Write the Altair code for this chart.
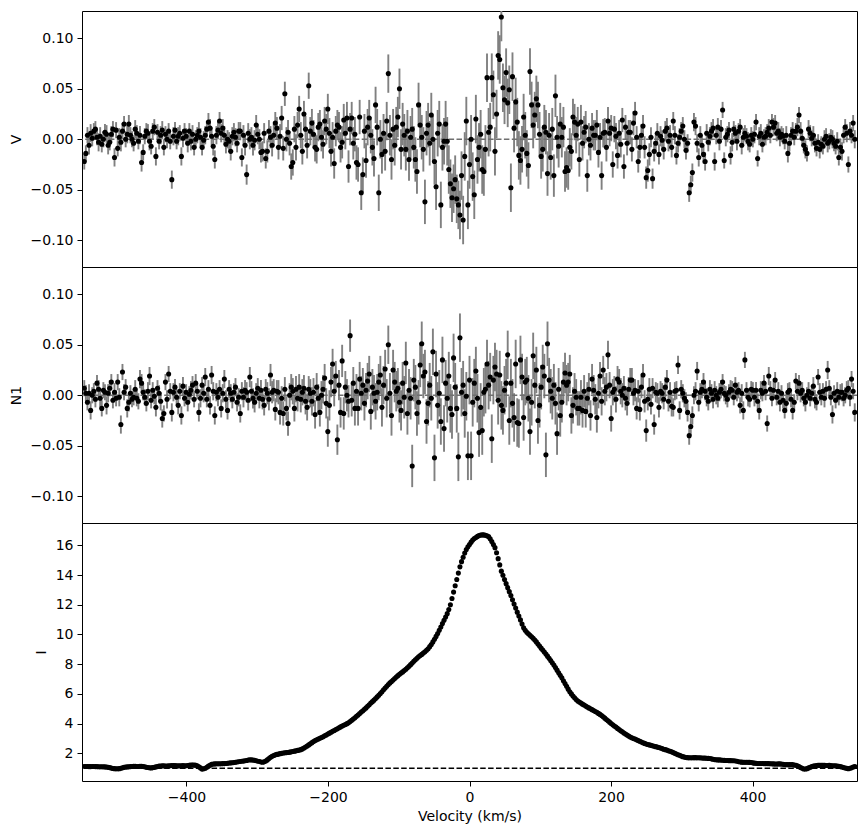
import altair as alt
import pandas as pd

# ---------------- data ----------------
VEL_START = -544.5   # km/s, first velocity bin
VEL_STEP = 2.25      # km/s, bin width

V_VALUES = [
    -0.022, -0.014, 0.004, -0.006, 0.006, 0.001, 0.008, 0.010, 0.002, -0.003,
    0.003, -0.005, 0.000, 0.007, 0.005, -0.006, -0.003, 0.005, 0.010, -0.018,
    0.009, -0.009, 0.002, -0.003, 0.008, 0.015, 0.000, 0.005, 0.015, 0.004,
    0.000, -0.004, 0.010, 0.006, -0.002, 0.004, -0.023, -0.013, 0.003, 0.008,
    0.006, -0.002, -0.007, 0.008, 0.012, -0.017, 0.007, -0.002, 0.004, 0.009,
    -0.008, 0.005, 0.000, 0.008, -0.002, -0.040, 0.003, 0.009, -0.002, 0.003,
    0.006, -0.017, 0.001, 0.008, 0.003, -0.004, 0.008, -0.002, 0.005, -0.008,
    0.000, 0.004, 0.008, 0.002, -0.008, -0.001, 0.004, 0.010, 0.017, 0.011,
    0.003, -0.007, -0.020, 0.004, 0.009, 0.018, 0.006, 0.011, 0.004, -0.005,
    0.000, -0.002, -0.012, 0.003, 0.007, 0.002, -0.004, 0.008, 0.008, -0.018,
    0.004, -0.006, -0.035, 0.006, 0.000, 0.002, -0.006, -0.001, 0.014, 0.005,
    0.000, -0.013, -0.012, 0.006, -0.019, -0.012, 0.008, 0.002, -0.006, 0.004,
    0.016, 0.011, -0.008, 0.003, 0.021, -0.009, 0.045, 0.000, 0.007, -0.004,
    -0.027, -0.023, 0.010, -0.008, 0.014, 0.030, 0.004, -0.012, 0.025, 0.010,
    -0.006, 0.053, 0.008, 0.016, 0.005, -0.008, -0.010, 0.012, 0.015, 0.002,
    -0.005, 0.018, 0.010, 0.030, 0.006, -0.012, 0.002, -0.024, 0.008, 0.014,
    0.012, -0.008, -0.003, 0.019, 0.006, 0.021, -0.027, 0.010, 0.021, -0.004,
    0.005, -0.023, -0.025, 0.022, -0.053, -0.035, 0.008, -0.021, 0.012, 0.021,
    0.004, -0.008, -0.019, 0.034, 0.012, -0.053, 0.000, -0.015, 0.006, -0.012,
    0.018, 0.065, 0.004, -0.020, 0.010, -0.006, 0.012, 0.022, 0.050, -0.010,
    0.015, 0.004, -0.010, 0.008, -0.020, 0.002, 0.010, -0.008, -0.020, -0.032,
    0.034, 0.014, 0.002, -0.010, -0.062, 0.006, 0.014, -0.004, 0.024, 0.000,
    -0.022, -0.047, 0.006, 0.015, -0.065, -0.008, -0.002, 0.015, -0.002, -0.030,
    -0.044, -0.058, -0.049, -0.040, -0.059, -0.065, -0.075, -0.036, -0.080, -0.017,
    0.018, -0.065, -0.025, 0.000, -0.037, -0.055, 0.020, -0.020, -0.008, 0.005,
    -0.030, -0.032, -0.010, 0.061, 0.007, 0.012, 0.061, 0.044, -0.012, 0.025,
    0.083, 0.079, 0.121, 0.051, 0.039, 0.066, 0.036, 0.049, -0.048, 0.062,
    0.011, 0.037, 0.017, -0.016, -0.021, -0.010, 0.022, 0.004, -0.014, -0.026,
    0.067, 0.034, 0.014, 0.024, 0.040, 0.034, 0.005, -0.017, -0.010, 0.012,
    0.007, -0.034, 0.004, -0.018, 0.010, -0.036, 0.043, 0.002, -0.007, 0.015,
    0.002, 0.012, -0.032, -0.028, -0.031, -0.008, -0.012, 0.022, 0.017, 0.004,
    0.015, -0.020, 0.017, -0.004, 0.007, 0.012, -0.036, 0.000, -0.006, 0.011,
    0.004, 0.004, 0.014, -0.013, 0.002, -0.036, 0.006, 0.007, -0.008, 0.018,
    0.006, 0.011, -0.025, 0.010, 0.003, -0.016, 0.006, -0.005, 0.019, -0.027,
    0.012, -0.004, 0.007, 0.007, -0.010, 0.016, 0.026, 0.002, -0.022, -0.008,
    0.004, 0.013, -0.008, -0.038, -0.031, -0.015, 0.002, -0.039, -0.012, -0.004,
    0.006, -0.015, 0.003, -0.001, -0.010, 0.008, 0.011, -0.002, 0.004, -0.008,
    0.018, 0.004, -0.016, -0.004, 0.002, 0.008, 0.013, 0.000, -0.011, -0.004,
    -0.053, -0.045, -0.033, 0.017, 0.013, -0.004, -0.018, 0.004, -0.006, -0.015,
    -0.022, 0.006, -0.003, 0.003, 0.008, 0.011, -0.022, 0.004, 0.012, -0.002,
    0.010, 0.029, -0.021, 0.002, 0.005, 0.009, -0.016, -0.003, 0.010, 0.006,
    -0.002, 0.008, 0.012, -0.006, 0.002, 0.006, 0.003, -0.002, -0.005, 0.004,
    0.000, 0.005, 0.017, -0.019, 0.003, 0.006, -0.005, 0.002, 0.003, 0.007,
    0.011, 0.004, 0.017, 0.012, 0.016, 0.006, 0.008, 0.002, 0.005, 0.003,
    -0.002, 0.004, -0.014, -0.004, 0.004, 0.008, 0.002, 0.008, 0.012, 0.024,
    0.008, 0.001, -0.006, -0.010, -0.014, 0.010, 0.006, 0.001, 0.004, -0.004,
    -0.009, -0.003, -0.010, -0.005, -0.007, 0.000, 0.003, -0.004, -0.002, 0.002,
    0.000, -0.004, -0.007, -0.002, -0.018, -0.008, -0.012, 0.004, 0.012, 0.006,
    -0.025, 0.008, 0.004, 0.016, 0.000,
]

N1_VALUES = [
    0.007, 0.002, -0.007, 0.002, -0.015, 0.000, 0.004, -0.004, 0.012, 0.006,
    -0.003, -0.013, 0.005, 0.003, -0.010, 0.002, 0.007, 0.013, -0.005, 0.003,
    -0.003, 0.013, -0.002, -0.029, 0.023, 0.003, 0.008, -0.013, -0.007, 0.002,
    -0.004, -0.002, 0.006, -0.003, -0.006, 0.016, 0.012, 0.003, -0.002, -0.008,
    0.004, 0.019, -0.005, 0.005, -0.001, -0.012, 0.007, 0.002, -0.006, -0.023,
    -0.018, 0.013, -0.004, 0.021, 0.004, -0.017, 0.003, 0.008, -0.002, -0.010,
    0.004, -0.020, 0.009, -0.003, 0.003, -0.007, 0.001, 0.005, 0.010, -0.004,
    0.012, 0.004, -0.017, -0.003, 0.010, 0.002, 0.018, -0.004, 0.006, -0.010,
    0.020, 0.004, -0.020, 0.003, -0.002, 0.006, -0.013, 0.002, 0.016, -0.004,
    -0.015, 0.006, 0.002, -0.004, 0.003, 0.008, -0.007, -0.002, -0.018, 0.004,
    -0.002, 0.005, 0.003, -0.005, 0.018, 0.004, -0.003, -0.007, 0.002, 0.007,
    -0.003, 0.005, -0.004, -0.010, 0.006, 0.002, -0.004, 0.020, 0.003, 0.005,
    -0.014, 0.004, 0.003, -0.017, -0.003, -0.018, 0.006, -0.013, -0.028, 0.000,
    0.008, 0.004, -0.013, 0.006, -0.003, 0.008, -0.004, 0.003, 0.007, -0.006,
    -0.012, 0.006, 0.002, -0.006, 0.003, -0.019, 0.008, -0.003, -0.017, 0.000,
    0.006, 0.017, -0.008, -0.036, -0.010, 0.013, 0.031, 0.004, 0.019, -0.044,
    0.010, -0.017, 0.034, -0.018, 0.008, 0.000, -0.006, 0.059, -0.005, 0.012,
    -0.013, 0.004, -0.013, 0.016, 0.002, 0.010, -0.008, 0.005, 0.014, 0.021,
    -0.016, 0.008, 0.002, -0.006, 0.003, 0.013, 0.020, -0.012, 0.010, 0.026,
    -0.003, 0.050, 0.002, -0.020, 0.025, 0.013, 0.004, 0.007, -0.007, -0.015,
    0.012, -0.002, 0.032, -0.018, 0.005, -0.003, -0.070, 0.015, 0.008, -0.018,
    -0.007, 0.030, 0.051, 0.019, 0.023, -0.026, -0.008, 0.010, -0.003, 0.043,
    -0.062, 0.021, -0.010, 0.002, -0.026, 0.035, -0.033, 0.012, -0.003, 0.019,
    -0.013, -0.019, 0.037, 0.008, -0.013, -0.061, 0.057, 0.003, 0.010, -0.018,
    -0.001, -0.060, 0.015, -0.060, -0.007, 0.012, 0.024, -0.003, -0.037, -0.012,
    -0.035, 0.003, 0.006, 0.031, 0.010, 0.018, -0.043, 0.015, 0.028, 0.021,
    -0.005, 0.020, -0.010, -0.015, 0.005, 0.012, 0.040, -0.025, 0.012, -0.008,
    -0.022, 0.031, -0.027, -0.028, 0.035, 0.018, -0.022, 0.013, 0.015, -0.003,
    -0.036, -0.007, 0.039, 0.010, 0.025, -0.025, -0.010, 0.008, 0.028, 0.019,
    -0.059, 0.051, 0.015, 0.004, -0.003, 0.010, -0.008, -0.038, 0.006, -0.020,
    -0.007, 0.013, 0.022, 0.010, 0.013, 0.021, -0.020, -0.010, 0.004, -0.002,
    -0.013, -0.013, -0.002, -0.015, 0.004, -0.016, -0.003, 0.006, -0.020, 0.016,
    0.005, -0.004, -0.022, 0.002, 0.019, -0.006, 0.025, 0.004, 0.008, 0.040,
    0.010, -0.023, 0.003, 0.006, -0.004, 0.016, 0.013, 0.004, 0.000, 0.007,
    -0.003, -0.008, 0.006, 0.015, 0.015, 0.002, 0.005, -0.013, 0.004, -0.014,
    0.008, 0.020, -0.006, -0.035, -0.004, 0.006, -0.009, 0.007, -0.029, 0.003,
    0.002, -0.012, 0.004, 0.002, -0.004, 0.008, 0.015, -0.006, 0.003, -0.011,
    -0.012, 0.004, 0.005, 0.030, -0.015, 0.006, 0.002, -0.003, -0.006, -0.017,
    -0.040, -0.031, -0.020, 0.000, 0.004, 0.024, -0.007, 0.003, 0.006, 0.013,
    0.004, -0.002, -0.006, 0.006, 0.002, -0.004, 0.005, 0.000, -0.003, 0.003,
    0.006, 0.013, 0.002, 0.000, -0.004, 0.003, 0.006, 0.005, -0.002, 0.010,
    0.003, 0.005, -0.010, 0.002, -0.015, 0.035, 0.005, -0.002, -0.004, 0.006,
    0.005, -0.002, 0.005, -0.006, -0.015, 0.005, 0.002, 0.012, 0.004, -0.028,
    0.019, 0.006, -0.003, 0.005, 0.015, -0.002, 0.004, -0.007, 0.002, -0.005,
    -0.015, -0.008, 0.003, 0.005, -0.004, -0.015, -0.007, 0.014, 0.004, 0.012,
    0.002, 0.005, -0.003, -0.007, 0.000, 0.004, -0.003, 0.002, 0.009, -0.004,
    -0.007, 0.018, 0.003, -0.002, 0.004, -0.003, 0.006, 0.025, 0.007, -0.002,
    -0.019, 0.002, -0.005, 0.004, -0.002, 0.003, 0.003, -0.003, 0.000, 0.005,
    0.007, -0.002, 0.016, 0.004, -0.017,
]

I_VALUES = [
    1.12, 1.12, 1.12, 1.11, 1.11, 1.12, 1.12, 1.11, 1.11, 1.10,
    1.10, 1.10, 1.10, 1.09, 1.08, 1.06, 1.04, 1.01, 0.98, 0.97,
    0.96, 0.96, 0.97, 1.00, 1.03, 1.06, 1.08, 1.09, 1.10, 1.11,
    1.12, 1.13, 1.13, 1.12, 1.12, 1.13, 1.13, 1.12, 1.10, 1.07,
    1.05, 1.03, 1.02, 1.04, 1.06, 1.09, 1.12, 1.14, 1.15, 1.16,
    1.16, 1.15, 1.15, 1.16, 1.17, 1.18, 1.18, 1.18, 1.17, 1.16,
    1.16, 1.17, 1.18, 1.17, 1.17, 1.18, 1.19, 1.21, 1.22, 1.21,
    1.20, 1.16, 1.10, 1.02, 0.94, 0.96, 1.00, 1.07, 1.14, 1.20,
    1.26, 1.28, 1.29, 1.30, 1.30, 1.30, 1.30, 1.31, 1.31, 1.32,
    1.33, 1.35, 1.36, 1.37, 1.38, 1.40, 1.42, 1.44, 1.45, 1.47,
    1.48, 1.50, 1.52, 1.55, 1.57, 1.56, 1.55, 1.53, 1.50, 1.47,
    1.45, 1.42, 1.40, 1.43, 1.48, 1.56, 1.65, 1.73, 1.80, 1.86,
    1.90, 1.93, 1.95, 1.98, 2.00, 2.02, 2.04, 2.05, 2.06, 2.08,
    2.10, 2.12, 2.15, 2.17, 2.20, 2.22, 2.25, 2.30, 2.36, 2.43,
    2.50, 2.57, 2.64, 2.72, 2.80, 2.86, 2.92, 2.97, 3.02, 3.07,
    3.12, 3.18, 3.24, 3.30, 3.36, 3.42, 3.48, 3.54, 3.60, 3.66,
    3.72, 3.78, 3.84, 3.89, 3.94, 4.00, 4.06, 4.14, 4.22, 4.31,
    4.40, 4.49, 4.58, 4.68, 4.78, 4.87, 4.96, 5.06, 5.17, 5.27,
    5.38, 5.48, 5.58, 5.69, 5.80, 5.91, 6.03, 6.15, 6.28, 6.40,
    6.52, 6.63, 6.74, 6.84, 6.94, 7.04, 7.14, 7.23, 7.32, 7.40,
    7.48, 7.57, 7.66, 7.76, 7.86, 7.97, 8.08, 8.19, 8.30, 8.40,
    8.50, 8.58, 8.66, 8.75, 8.84, 8.94, 9.04, 9.18, 9.32, 9.50,
    9.68, 9.87, 10.06, 10.28, 10.50, 10.73, 10.96, 11.18, 11.40, 11.68,
    12.00, 12.42, 12.85, 13.28, 13.70, 14.13, 14.55, 14.90, 15.20, 15.48,
    15.72, 15.90, 16.05, 16.21, 16.35, 16.45, 16.52, 16.60, 16.66, 16.69,
    16.70, 16.70, 16.68, 16.64, 16.58, 16.44, 16.25, 16.05, 15.84, 15.50,
    15.10, 14.68, 14.26, 13.98, 13.70, 13.42, 13.15, 12.88, 12.62, 12.33,
    12.05, 11.78, 11.50, 11.24, 10.98, 10.70, 10.45, 10.28, 10.15, 10.05,
    9.95, 9.85, 9.75, 9.63, 9.50, 9.36, 9.22, 9.08, 8.95, 8.82,
    8.68, 8.54, 8.40, 8.25, 8.10, 7.94, 7.78, 7.60, 7.42, 7.25,
    7.08, 6.89, 6.70, 6.51, 6.32, 6.15, 6.00, 5.86, 5.74, 5.62,
    5.52, 5.45, 5.38, 5.31, 5.25, 5.18, 5.12, 5.06, 5.00, 4.94,
    4.88, 4.82, 4.76, 4.69, 4.62, 4.54, 4.46, 4.37, 4.28, 4.19,
    4.10, 4.01, 3.92, 3.84, 3.77, 3.68, 3.60, 3.52, 3.45, 3.37,
    3.30, 3.23, 3.16, 3.10, 3.05, 3.00, 2.96, 2.91, 2.86, 2.81,
    2.76, 2.71, 2.67, 2.63, 2.60, 2.57, 2.54, 2.51, 2.48, 2.45,
    2.42, 2.39, 2.36, 2.32, 2.28, 2.25, 2.22, 2.18, 2.14, 2.10,
    2.05, 2.00, 1.96, 1.91, 1.87, 1.82, 1.78, 1.75, 1.72, 1.71,
    1.70, 1.70, 1.70, 1.71, 1.71, 1.70, 1.70, 1.70, 1.69, 1.68,
    1.68, 1.67, 1.66, 1.65, 1.63, 1.60, 1.58, 1.57, 1.56, 1.56,
    1.55, 1.54, 1.53, 1.52, 1.52, 1.51, 1.51, 1.50, 1.50, 1.49,
    1.47, 1.44, 1.42, 1.41, 1.40, 1.40, 1.40, 1.40, 1.39, 1.38,
    1.36, 1.34, 1.33, 1.32, 1.32, 1.32, 1.32, 1.31, 1.31, 1.31,
    1.31, 1.30, 1.30, 1.29, 1.28, 1.28, 1.29, 1.29, 1.28, 1.27,
    1.25, 1.24, 1.24, 1.24, 1.25, 1.24, 1.22, 1.20, 1.16, 1.11,
    1.05, 1.00, 0.95, 0.95, 0.97, 1.02, 1.07, 1.11, 1.14, 1.16,
    1.18, 1.19, 1.19, 1.19, 1.19, 1.19, 1.18, 1.18, 1.19, 1.18,
    1.17, 1.17, 1.16, 1.15, 1.13, 1.11, 1.08, 1.05, 1.01, 0.99,
    0.97, 1.00, 1.03, 1.08, 1.12,
]

# 1-sigma error of V and N1 (same for both)
SIGMA_VALUES = [
    0.008, 0.008, 0.008, 0.009, 0.009, 0.008, 0.008, 0.008, 0.008, 0.009,
    0.009, 0.008, 0.008, 0.008, 0.009, 0.009, 0.008, 0.008, 0.008, 0.009,
    0.008, 0.008, 0.009, 0.009, 0.008, 0.008, 0.008, 0.009, 0.009, 0.008,
    0.008, 0.008, 0.009, 0.008, 0.008, 0.009, 0.009, 0.008, 0.008, 0.008,
    0.009, 0.009, 0.008, 0.008, 0.008, 0.009, 0.008, 0.008, 0.009, 0.009,
    0.008, 0.008, 0.009, 0.008, 0.008, 0.009, 0.009, 0.008, 0.008, 0.009,
    0.008, 0.009, 0.009, 0.008, 0.008, 0.009, 0.008, 0.009, 0.009, 0.008,
    0.009, 0.008, 0.009, 0.009, 0.008, 0.009, 0.009, 0.008, 0.009, 0.009,
    0.009, 0.009, 0.009, 0.009, 0.009, 0.009, 0.009, 0.009, 0.009, 0.009,
    0.009, 0.009, 0.009, 0.009, 0.009, 0.009, 0.009, 0.009, 0.009, 0.009,
    0.010, 0.010, 0.010, 0.010, 0.010, 0.010, 0.010, 0.010, 0.010, 0.010,
    0.010, 0.010, 0.010, 0.010, 0.010, 0.011, 0.011, 0.011, 0.011, 0.011,
    0.011, 0.011, 0.012, 0.012, 0.012, 0.012, 0.012, 0.012, 0.012, 0.012,
    0.013, 0.013, 0.013, 0.013, 0.013, 0.013, 0.013, 0.013, 0.013, 0.013,
    0.013, 0.013, 0.014, 0.014, 0.014, 0.014, 0.014, 0.014, 0.014, 0.014,
    0.014, 0.014, 0.015, 0.015, 0.015, 0.015, 0.015, 0.015, 0.015, 0.015,
    0.015, 0.015, 0.016, 0.016, 0.016, 0.016, 0.016, 0.016, 0.016, 0.016,
    0.017, 0.017, 0.017, 0.017, 0.017, 0.017, 0.017, 0.017, 0.018, 0.018,
    0.018, 0.018, 0.018, 0.018, 0.018, 0.018, 0.019, 0.019, 0.019, 0.019,
    0.019, 0.019, 0.020, 0.020, 0.020, 0.020, 0.020, 0.020, 0.020, 0.020,
    0.021, 0.021, 0.021, 0.021, 0.021, 0.021, 0.021, 0.021, 0.022, 0.022,
    0.022, 0.022, 0.022, 0.022, 0.022, 0.022, 0.022, 0.022, 0.022, 0.023,
    0.023, 0.023, 0.023, 0.023, 0.023, 0.023, 0.023, 0.023, 0.024, 0.024,
    0.024, 0.024, 0.024, 0.024, 0.024, 0.024, 0.024, 0.024, 0.024, 0.024,
    0.024, 0.024, 0.024, 0.024, 0.024, 0.024, 0.024, 0.024, 0.024, 0.024,
    0.024, 0.024, 0.024, 0.024, 0.024, 0.024, 0.024, 0.024, 0.024, 0.024,
    0.024, 0.024, 0.024, 0.024, 0.024, 0.024, 0.024, 0.024, 0.024, 0.024,
    0.024, 0.024, 0.024, 0.024, 0.024, 0.023, 0.023, 0.023, 0.023, 0.023,
    0.023, 0.023, 0.023, 0.023, 0.023, 0.023, 0.022, 0.022, 0.022, 0.022,
    0.022, 0.022, 0.022, 0.022, 0.021, 0.021, 0.021, 0.021, 0.021, 0.021,
    0.020, 0.020, 0.020, 0.020, 0.019, 0.019, 0.018, 0.018, 0.018, 0.018,
    0.017, 0.017, 0.017, 0.017, 0.016, 0.016, 0.016, 0.016, 0.015, 0.015,
    0.015, 0.015, 0.015, 0.015, 0.014, 0.014, 0.014, 0.014, 0.014, 0.014,
    0.013, 0.013, 0.013, 0.013, 0.013, 0.013, 0.013, 0.013, 0.012, 0.012,
    0.012, 0.012, 0.012, 0.012, 0.012, 0.012, 0.011, 0.011, 0.011, 0.011,
    0.011, 0.011, 0.011, 0.011, 0.011, 0.011, 0.010, 0.010, 0.010, 0.010,
    0.010, 0.010, 0.010, 0.010, 0.010, 0.010, 0.010, 0.010, 0.010, 0.010,
    0.009, 0.009, 0.009, 0.009, 0.009, 0.009, 0.009, 0.009, 0.009, 0.009,
    0.009, 0.009, 0.009, 0.009, 0.009, 0.009, 0.009, 0.009, 0.009, 0.009,
    0.009, 0.009, 0.009, 0.009, 0.009, 0.009, 0.009, 0.009, 0.009, 0.009,
    0.009, 0.008, 0.008, 0.009, 0.008, 0.008, 0.009, 0.009, 0.008, 0.008,
    0.009, 0.008, 0.008, 0.009, 0.009, 0.008, 0.008, 0.009, 0.008, 0.008,
    0.008, 0.009, 0.008, 0.008, 0.009, 0.009, 0.008, 0.008, 0.009, 0.008,
    0.009, 0.008, 0.008, 0.009, 0.008, 0.008, 0.009, 0.009, 0.008, 0.008,
    0.008, 0.009, 0.009, 0.008, 0.008, 0.009, 0.008, 0.008, 0.009, 0.008,
    0.009, 0.008, 0.008, 0.009, 0.008, 0.009, 0.008, 0.008, 0.009, 0.009,
    0.008, 0.008, 0.009, 0.008, 0.008, 0.009, 0.008, 0.009, 0.008, 0.008,
    0.009, 0.008, 0.008, 0.009, 0.008, 0.008, 0.009, 0.008, 0.008, 0.009,
    0.008, 0.009, 0.008, 0.008, 0.009,
]

X_TICKS = [-400, -200, 0, 200, 400]
POL_TICKS = [-0.10, -0.05, 0.00, 0.05, 0.10]
I_TICKS = [2, 4, 6, 8, 10, 12, 14, 16]

# ---------------- table ----------------
n = len(I_VALUES)
assert len(V_VALUES) == n and len(N1_VALUES) == n and len(SIGMA_VALUES) == n, (
    len(V_VALUES), len(N1_VALUES), len(I_VALUES), len(SIGMA_VALUES))
velocity = [round(VEL_START + VEL_STEP * k, 3) for k in range(n)]

df = pd.DataFrame({
    "vel": velocity,
    "V": V_VALUES,
    "N1": N1_VALUES,
    "I": I_VALUES,
    "err": SIGMA_VALUES,
})
for col in ["V", "N1"]:
    df[col + "_lo"] = df[col] - df["err"]
    df[col + "_hi"] = df[col] + df["err"]

ref_pol = pd.DataFrame({"level": [0.0]})
ref_int = pd.DataFrame({"level": [1.0]})

# ---------------- styling ----------------
FONT = "DejaVu Sans"
FS = 14
W = 775
H_TOP, H_MID, H_BOT = 256, 256, 258
X_DOMAIN = [-547.7, 547.7]
POL_DOMAIN = [-0.1265, 0.127]
I_DOMAIN = [0.14, 17.5]
DOT = 26


def x_enc(show_axis):
    scale = alt.Scale(domain=X_DOMAIN, nice=False, zero=False)
    if show_axis:
        axis = alt.Axis(
            values=X_TICKS, format=".0f", title="Velocity (km/s)",
            grid=False, domain=False, ticks=True, tickSize=5, tickWidth=1,
            tickColor="black", labelPadding=4, labelFont=FONT,
            labelFontSize=FS, labelColor="black", titleFont=FONT,
            titleFontSize=FS, titleFontWeight="normal", titleColor="black",
            titlePadding=5,
        )
        return alt.X("vel:Q", scale=scale, axis=axis)
    return alt.X("vel:Q", scale=scale, axis=None)


def y_axis(title, values, fmt):
    return alt.Axis(
        title=title, values=values, format=fmt, grid=False, domain=False,
        ticks=True, tickSize=5, tickWidth=1, tickColor="black",
        labelPadding=4, labelFont=FONT, labelFontSize=FS, labelColor="black",
        titleFont=FONT, titleFontSize=FS, titleFontWeight="normal",
        titleColor="black", titlePadding=7,
    )


def pol_panel(col, height):
    yscale = alt.Scale(domain=POL_DOMAIN, nice=False, zero=False)
    ax = y_axis(col, POL_TICKS, ".2f")
    base = alt.Chart(df)
    bars = base.mark_rule(color="#808080", strokeWidth=1.9, clip=True).encode(
        x=x_enc(False),
        y=alt.Y(col + "_lo:Q", scale=yscale, axis=ax),
        y2=col + "_hi:Q",
    )
    zero = alt.Chart(ref_pol).mark_rule(
        color="#6f6f6f", strokeDash=[5.5, 2.4], strokeWidth=1.5
    ).encode(y=alt.Y("level:Q", scale=yscale, axis=ax))
    pts = base.mark_circle(size=DOT, color="black", opacity=1, clip=True).encode(
        x=x_enc(False),
        y=alt.Y(col + ":Q", scale=yscale, axis=ax),
    )
    return alt.layer(bars, zero, pts).properties(width=W, height=height)


def int_panel(height):
    yscale = alt.Scale(domain=I_DOMAIN, nice=False, zero=False)
    ax = y_axis("I", I_TICKS, "d")
    cont = alt.Chart(ref_int).mark_rule(
        color="black", strokeDash=[5.5, 2.4], strokeWidth=1.5
    ).encode(y=alt.Y("level:Q", scale=yscale, axis=ax))
    pts = alt.Chart(df).mark_circle(size=DOT, color="black", opacity=1, clip=True).encode(
        x=x_enc(True),
        y=alt.Y("I:Q", scale=yscale, axis=ax),
    )
    return alt.layer(cont, pts).properties(width=W, height=height)


chart = alt.vconcat(
    pol_panel("V", H_TOP), pol_panel("N1", H_MID), int_panel(H_BOT),
    spacing=0, bounds="flush"
).properties(
    padding={"left": 8, "top": 10, "right": 5, "bottom": 5}
).configure(
    background="white"
).configure_view(
    stroke="black", strokeWidth=1
)

chart.save("out.html", embed_options={"renderer": "svg", "actions": False})
